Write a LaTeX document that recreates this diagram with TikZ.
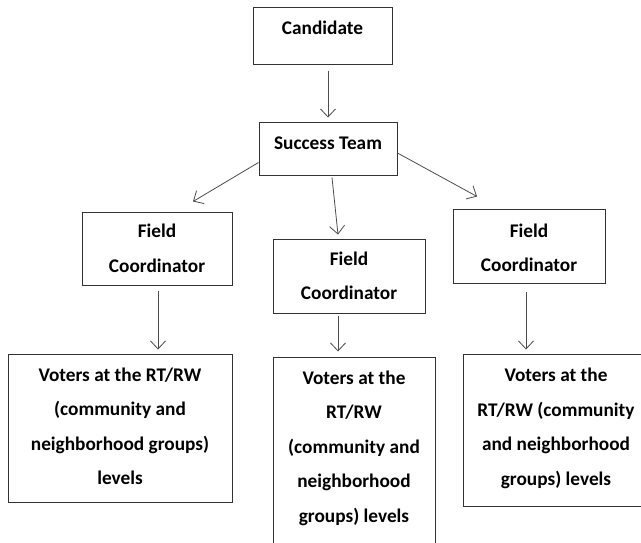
\documentclass[tikz,border=0pt]{standalone}
\usepackage{fontspec}
\setmainfont{Carlito}
\usetikzlibrary{arrows.meta,positioning}
\tikzset{
  box/.style={draw=black!80, line width=1pt, rectangle, inner sep=0pt},
  txt/.style={align=center, inner sep=0pt, font=\bfseries\fontsize{19.3}{34.5}\selectfont, text=black},
  arr/.style={draw=black!70, line width=0.8pt, -{Straight Barb[length=8pt,width=15pt,line width=0.8pt]}},
}
\begin{document}
\begin{tikzpicture}[x=1pt,y=-1pt]
\clip (0,0) rectangle (641,542);
\fill[white] (0,0) rectangle (641,542);
% boxes
\node[box, minimum width=139pt, minimum height=57pt] (cand) at (322.5,35.5) {};
\node[box, minimum width=138pt, minimum height=53pt] (st) at (328,148.5) {};
\node[box, minimum width=150pt, minimum height=73pt] (fc1) at (157,248.5) {};
\node[box, minimum width=152pt, minimum height=74pt] (fc2) at (349,276) {};
\node[box, minimum width=152pt, minimum height=74pt] (fc3) at (529,246) {};
\node[box, minimum width=224pt, minimum height=148pt] (v1) at (120,428) {};
\node[box, minimum width=162pt, minimum height=210pt] (v2) at (354,462) {};
\node[box, minimum width=187pt, minimum height=152pt] (v3) at (556.5,430) {};
% texts
\node[txt] (candt) at (322.5,28) {Candidate};
\node[txt] (stt) at (328,143) {Success Team};
\node[txt] (fc1t) at (157,248.5) {Field\\Coordinator};
\node[txt] (fc2t) at (349,276) {Field\\Coordinator};
\node[txt] (fc3t) at (529,248) {Field\\Coordinator};
\node[txt] (v1t) at (120,426.5) {Voters at the RT/RW\\(community and\\neighborhood groups)\\levels};
\node[txt] (v2t) at (354,448) {Voters at the\\RT/RW\\(community and\\neighborhood\\groups) levels};
\node[txt] (v3t) at (556,428.5) {Voters at the\\RT/RW (community\\and neighborhood\\groups) levels};
% connectors
\draw[arr] ([yshift=-6pt]st.north |- cand.south) -- ([yshift=4pt]st.north);
\draw[arr] ([yshift=13pt]st.south west) -- ([xshift=36pt,yshift=10pt]fc1.north);
\draw[arr] ([xshift=4pt,yshift=-2pt]st.south) -- ([xshift=-11pt,yshift=4pt]fc2.north);
\draw[arr] ([yshift=-4.5pt]st.east) -- ([xshift=-52pt,yshift=12pt]fc3.north);
\draw[arr] ([xshift=1pt,yshift=-5pt]fc1.south) -- ([xshift=1pt,yshift=4pt]fc1.south |- v1.north);
\draw[arr] ([xshift=-11pt,yshift=-2pt]fc2.south) -- ([xshift=-11pt,yshift=5pt]fc2.south |- v2.north);
\draw[arr] ([xshift=-3pt,yshift=-8pt]fc3.south) -- ([xshift=-3pt,yshift=4pt]fc3.south |- v3.north);
\end{tikzpicture}
\end{document}
